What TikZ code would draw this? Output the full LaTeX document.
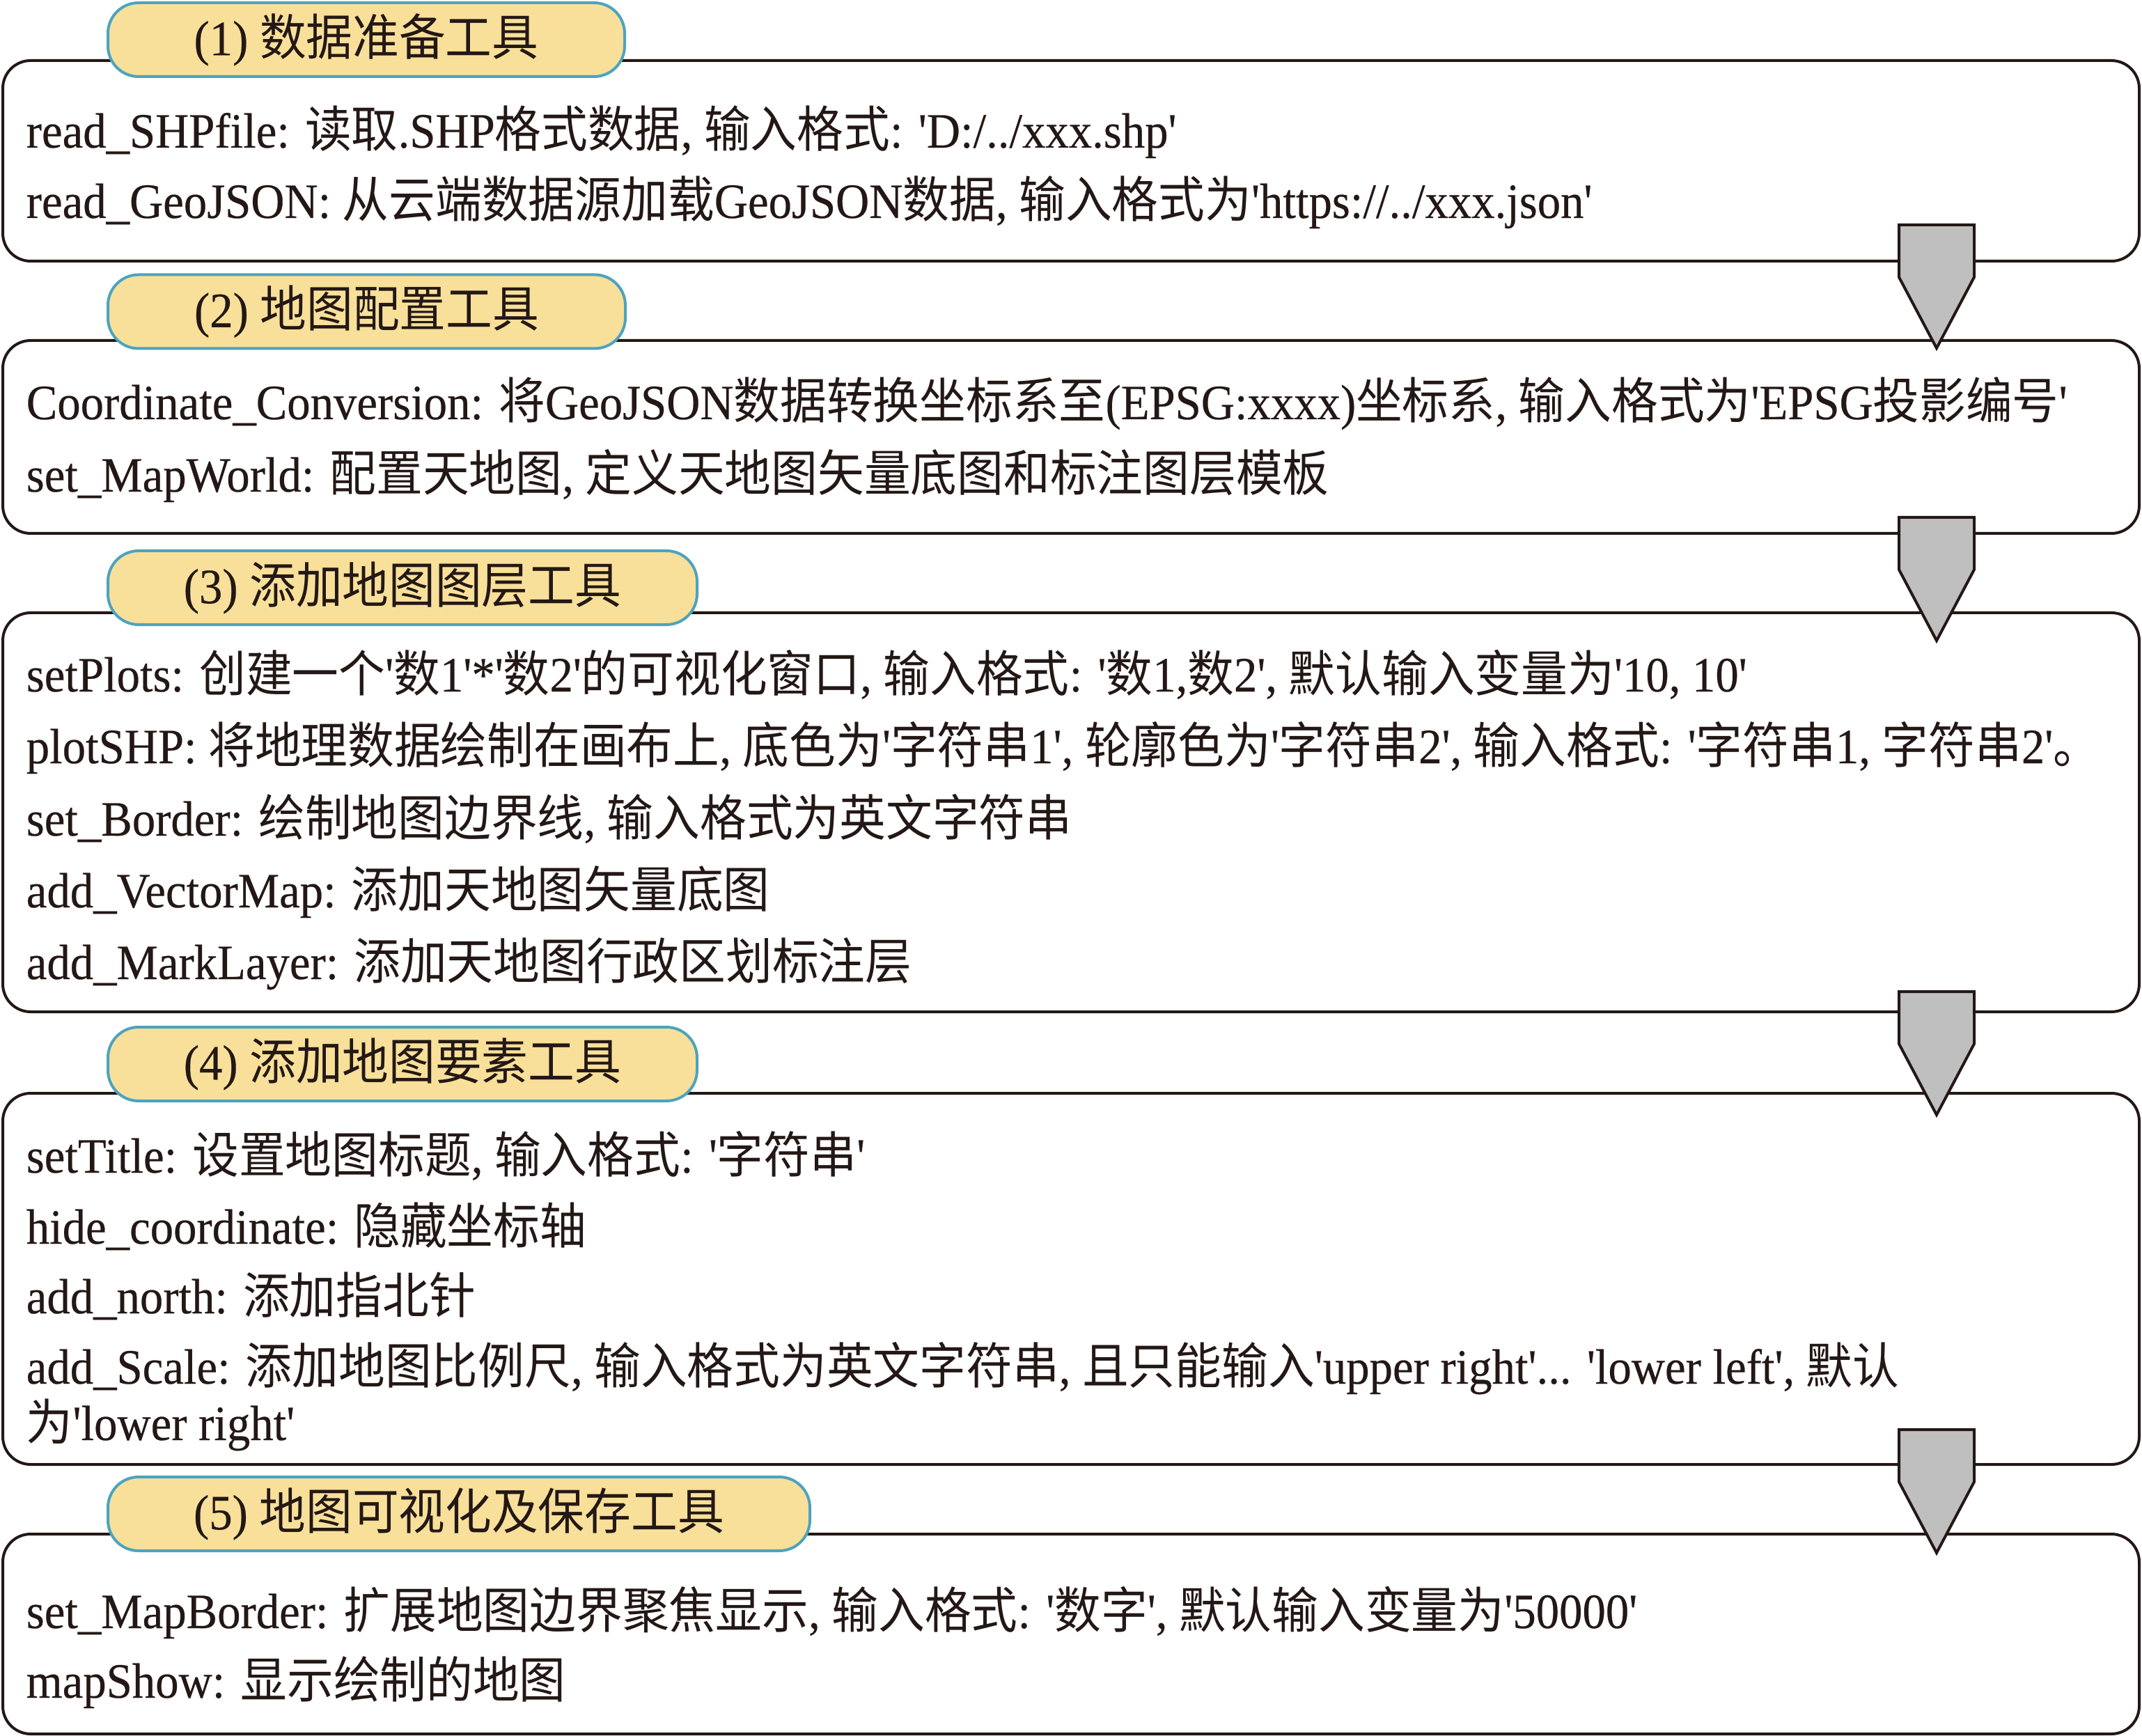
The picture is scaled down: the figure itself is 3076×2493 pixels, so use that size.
\documentclass[tikz,border=0pt]{standalone}
\usepackage{fontspec}
\newfontfamily\latinfont[FakeStretch=0.94,FakeBold=0.3]{Liberation Serif}
\newfontfamily\cjkfont[FakeStretch=0.94]{Noto Sans CJK SC}
\usepackage{xcolor}
\usepackage{tikz}
\usetikzlibrary{calc}

% switch fonts at Chinese characters
\XeTeXinterchartokenstate=1
\chardef\CJKcls=10
\makeatletter
\def\setCJKrange#1#2{\count@=#1\relax
  \loop\XeTeXcharclass\count@=\CJKcls\advance\count@\@ne\ifnum\count@<#2\repeat}
\setCJKrange{"3000}{"3040}
\setCJKrange{"4E00}{"A000}
\setCJKrange{"FF00}{"FFF0}
\makeatother
\XeTeXinterchartoks 0 \CJKcls = {\cjkfont}
\XeTeXinterchartoks 4095 \CJKcls = {\cjkfont}
\XeTeXinterchartoks \CJKcls 0 = {\latinfont}
\XeTeXinterchartoks \CJKcls 4095 = {\latinfont}

\newlength\unitpx
\setlength\unitpx{0.25pt}

\definecolor{lineblk}{HTML}{231815}
\definecolor{tabfill}{HTML}{F8E09A}
\definecolor{tabline}{HTML}{4DA3BE}
\definecolor{arrfill}{HTML}{BFBFBF}

\begin{document}
\begin{tikzpicture}[
x=\unitpx, y=-\unitpx,
S1/.style={rectangle, rounded corners=10pt, draw=lineblk, fill=white, line width=1pt,
outer sep=0pt, minimum width=3068\unitpx},
S2/.style={rectangle, rounded corners=11pt, draw=tabline, fill=tabfill, line width=1pt,
outer sep=0pt, inner sep=0pt, minimum height=106\unitpx, text=lineblk,
font=\fontsize{17.75}{24}\latinfont},
S3/.style={draw=lineblk, fill=arrfill, line width=1pt, line join=miter},
T1/.style={anchor=base west, inner sep=0pt, text=lineblk,
font=\fontsize{17.75}{24}\latinfont},
]
	\useasboundingbox (0,0) rectangle (3076,2493);

	% (1)
	\node[
	S1, 
	minimum height=288\unitpx,
	] (Prep) 
	at (1538,231) {};
	\node[
	S2, 
	minimum width=742\unitpx,
	] (PrepTab) 
	at (526,57)
	{(1) 数据准备工具};
	\node[T1] (ReadSHP) 
	at ($ (Prep.north west) + (33,125) $)
	{read\_SHPfile: 读取.SHP格式数据, 输入格式: 'D:/../xxx.shp'};
	\node[T1] (ReadGeo) 
	at ($ (Prep.north west) + (33,226) $)
	{read\_GeoJSON: 从云端数据源加载GeoJSON数据, 输入格式为'https://../xxx.json'};

	% (2)
	\node[
	S1, 
	minimum height=277\unitpx,
	] (Conf) 
	at (1538,627.5) {};
	\node[
	S2, 
	minimum width=743\unitpx,
	] (ConfTab) 
	at (526.5,447.5)
	{(2) 地图配置工具};
	\node[T1] (CoordConv) 
	at ($ (Conf.north west) + (33,113) $)
	{Coordinate\_Conversion: 将GeoJSON数据转换坐标系至(EPSG:xxxx)坐标系, 输入格式为'EPSG投影编号'};
	\node[T1] (MapWorld) 
	at ($ (Conf.north west) + (33,217) $)
	{set\_MapWorld: 配置天地图, 定义天地图矢量底图和标注图层模板};

	% (3)
	\node[
	S1, 
	minimum height=573\unitpx,
	] (Layer) 
	at (1538,1166.5) {};
	\node[
	S2, 
	minimum width=846\unitpx,
	] (LayerTab) 
	at (578,844)
	{(3) 添加地图图层工具};
	\node[T1] (SetPlots) 
	at ($ (Layer.north west) + (33,113) $)
	{setPlots: 创建一个'数1'*'数2'的可视化窗口, 输入格式: '数1,数2', 默认输入变量为'10, 10'};
	\node[T1] (PlotSHP) 
	at ($ (Layer.north west) + (33,216) $)
	{plotSHP: 将地理数据绘制在画布上, 底色为'字符串1', 轮廓色为'字符串2', 输入格式: '字符串1, 字符串2'。};
	\node[T1] (SetBorder) 
	at ($ (Layer.north west) + (33,320) $)
	{set\_Border: 绘制地图边界线, 输入格式为英文字符串};
	\node[T1] (VecMap) 
	at ($ (Layer.north west) + (33,423) $)
	{add\_VectorMap: 添加天地图矢量底图};
	\node[T1] (MarkLayer) 
	at ($ (Layer.north west) + (33,526) $)
	{add\_MarkLayer: 添加天地图行政区划标注层};

	% (4)
	\node[
	S1, 
	minimum height=533\unitpx,
	] (Elem) 
	at (1538,1836.5) {};
	\node[
	S2, 
	minimum width=846\unitpx,
	] (ElemTab) 
	at (578,1528)
	{(4) 添加地图要素工具};
	\node[T1] (SetTitle) 
	at ($ (Elem.north west) + (33,114) $)
	{setTitle: 设置地图标题, 输入格式: '字符串'};
	\node[T1] (HideCoord) 
	at ($ (Elem.north west) + (33,216) $)
	{hide\_coordinate: 隐藏坐标轴};
	\node[T1] (North) 
	at ($ (Elem.north west) + (33,316) $)
	{add\_north: 添加指北针};
	\node[T1] (Scale) 
	at ($ (Elem.north west) + (33,417) $)
	{add\_Scale: 添加地图比例尺, 输入格式为英文字符串, 且只能输入'upper right'... 'lower left', 默认};
	\node[T1] (Scale2) 
	at ($ (Scale.base west) + (0,81) $)
	{为'lower right'};

	% (5)
	\node[
	S1, 
	minimum height=287\unitpx,
	] (Show) 
	at (1538,2346.5) {};
	\node[
	S2, 
	minimum width=1008\unitpx,
	] (ShowTab) 
	at (659,2174)
	{(5) 地图可视化及保存工具};
	\node[T1] (MapBorder) 
	at ($ (Show.north west) + (33,135) $)
	{set\_MapBorder: 扩展地图边界聚焦显示, 输入格式: '数字', 默认输入变量为'50000'};
	\node[T1] (MapShow) 
	at ($ (Show.north west) + (33,235) $)
	{mapShow: 显示绘制的地图};

	% arrows between the boxes
	\foreach \ay in {323,743,1424,2053}
	\draw[S3] (2727,\ay) -- (2835,\ay) -- (2835,\ay+75) -- (2781,\ay+177)
	-- (2727,\ay+75) -- cycle;
\end{tikzpicture}
\end{document}
